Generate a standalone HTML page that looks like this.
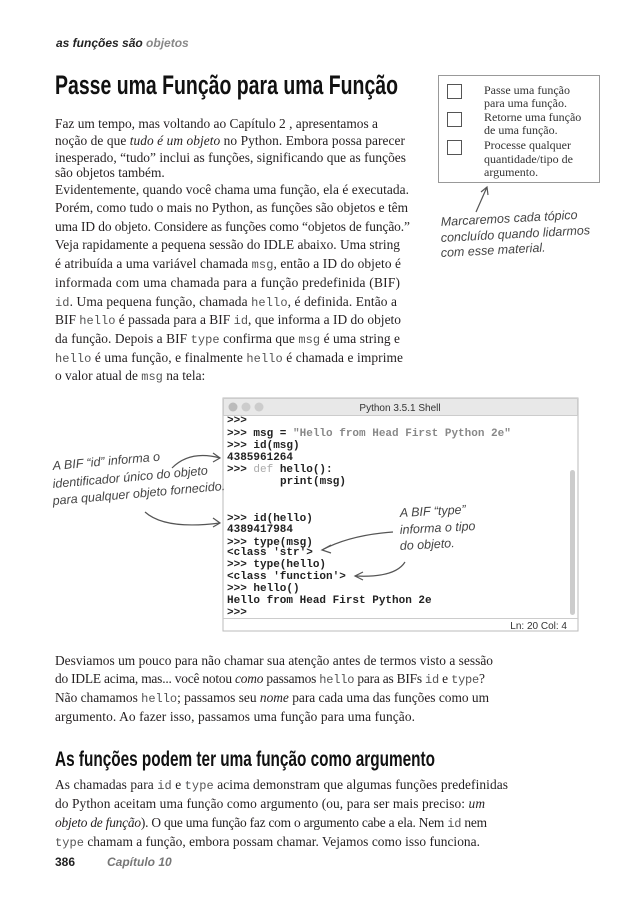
<!DOCTYPE html>
<html><head><meta charset="utf-8"><style>
html,body{margin:0;padding:0;background:#fff}
svg{display:block}
.b{font-family:"Liberation Serif",serif;font-size:13.4px;fill:#231f20}
.c{font-family:"Liberation Mono",monospace;fill:#555;font-size:12px}
.m{font-family:"Liberation Mono",monospace;font-size:11px;font-weight:bold;fill:#222;white-space:pre}
.h{font-family:"Liberation Sans Narrow","Liberation Sans",sans-serif;font-style:italic;fill:#444;font-size:12.5px}
</style></head><body>
<svg width="638" height="901" viewBox="0 0 638 901" xmlns="http://www.w3.org/2000/svg" xml:space="preserve">
<text x="56" y="47" font-family="Liberation Sans,sans-serif" font-size="12" font-weight="bold" font-style="italic" fill="#222">as funções são <tspan fill="#888">objetos</tspan></text>
<text x="55" y="94" font-family="Liberation Sans Narrow,Liberation Sans,sans-serif" font-size="27" font-weight="bold" fill="#111" textLength="343" lengthAdjust="spacingAndGlyphs">Passe uma Função para uma Função</text>

<g class="b">
<text x="55" y="128" textLength="323">Faz um tempo, mas voltando ao Capítulo 2 , apresentamos a</text>
<text x="55" y="145" textLength="350">noção de que <tspan font-style="italic">tudo é um objeto</tspan> no Python. Embora possa parecer</text>
<text x="55" y="162" textLength="351">inesperado, “tudo” inclui as funções, significando que as funções</text>
<text x="55" y="177">são objetos também.</text>
<text x="55" y="194" textLength="354">Evidentemente, quando você chama uma função, ela é executada.</text>
<text x="55" y="212" textLength="353">Porém, como tudo o mais no Python, as funções são objetos e têm</text>
<text x="55" y="231" textLength="355">uma ID do objeto. Considere as funções como “objetos de função.”</text>
<text x="55" y="249" textLength="345">Veja rapidamente a pequena sessão do IDLE abaixo. Uma string</text>
<text x="55" y="268" textLength="346">é atribuída a uma variável chamada <tspan class="c">msg</tspan>, então a ID do objeto é</text>
<text x="55" y="287" textLength="345">informada com uma chamada para a função predefinida (BIF)</text>
<text x="55" y="306" textLength="342"><tspan class="c">id</tspan>. Uma pequena função, chamada <tspan class="c">hello</tspan>, é definida. Então a</text>
<text x="55" y="324" textLength="346">BIF <tspan class="c">hello</tspan> é passada para a BIF <tspan class="c">id</tspan>, que informa a ID do objeto</text>
<text x="55" y="343" textLength="345">da função. Depois a BIF <tspan class="c">type</tspan> confirma que <tspan class="c">msg</tspan> é uma string e</text>
<text x="55" y="362" textLength="348"><tspan class="c">hello</tspan> é uma função, e finalmente <tspan class="c">hello</tspan> é chamada e imprime</text>
<text x="55" y="380">o valor atual de <tspan class="c">msg</tspan> na tela:</text>

<text x="55" y="665" textLength="438">Desviamos um pouco para não chamar sua atenção antes de termos visto a sessão</text>
<text x="55" y="683" textLength="430">do IDLE acima, mas... você notou <tspan font-style="italic">como</tspan> passamos <tspan class="c">hello</tspan> para as BIFs <tspan class="c">id</tspan> e <tspan class="c">type</tspan>?</text>
<text x="55" y="702" textLength="434">Não chamamos <tspan class="c">hello</tspan>; passamos seu <tspan font-style="italic">nome</tspan> para cada uma das funções como um</text>
<text x="55" y="721" textLength="360">argumento. Ao fazer isso, passamos uma função para uma função.</text>
</g>

<text x="55" y="766" font-family="Liberation Sans Narrow,Liberation Sans,sans-serif" font-size="21" font-weight="bold" fill="#111" textLength="380" lengthAdjust="spacingAndGlyphs">As funções podem ter uma função como argumento</text>
<g class="b">
<text x="55" y="789" textLength="453">As chamadas para <tspan class="c">id</tspan> e <tspan class="c">type</tspan> acima demonstram que algumas funções predefinidas</text>
<text x="55" y="808" textLength="430">do Python aceitam uma função como argumento (ou, para ser mais preciso: <tspan font-style="italic">um</tspan></text>
<text x="55" y="827" textLength="432"><tspan font-style="italic">objeto de função</tspan>). O que uma função faz com o argumento cabe a ela. Nem <tspan class="c">id</tspan> nem</text>
<text x="55" y="846" textLength="425"><tspan class="c">type</tspan> chamam a função, embora possam chamar. Vejamos como isso funciona.</text>
</g>
<text x="55" y="866" font-family="Liberation Sans,sans-serif" font-size="12" font-weight="bold" fill="#222">386</text>
<text x="107" y="866" font-family="Liberation Sans,sans-serif" font-size="12" font-weight="bold" font-style="italic" fill="#777">Capítulo 10</text>

<!-- checklist -->
<rect x="438.5" y="75.5" width="161" height="107" fill="#fff" stroke="#999"/>
<rect x="447.5" y="84.5" width="14" height="14" fill="none" stroke="#555"/>
<rect x="447.5" y="112.5" width="14" height="14" fill="none" stroke="#555"/>
<rect x="447.5" y="140.5" width="14" height="14" fill="none" stroke="#555"/>
<g font-family="Liberation Serif,serif" font-size="12" fill="#333">
<text x="484" y="94">Passe uma função</text>
<text x="484" y="107">para uma função.</text>
<text x="484" y="121">Retorne uma função</text>
<text x="484" y="134">de uma função.</text>
<text x="484" y="149">Processe qualquer</text>
<text x="484" y="163">quantidade/tipo de</text>
<text x="484" y="176">argumento.</text>
</g>
<path d="M476 212 L487 187 M481 192 L487 187 L488 195" fill="none" stroke="#555" stroke-width="1.2"/>
<g class="h">
<text x="441" y="226" transform="rotate(-3 441 226)">Marcaremos cada tópico</text>
<text x="441" y="242" transform="rotate(-3 441 242)">concluído quando lidarmos</text>
<text x="441" y="257" transform="rotate(-3 441 257)">com esse material.</text>
</g>

<!-- shell -->
<rect x="223" y="398" width="355" height="233" fill="#fff" stroke="#bbb"/>
<rect x="223.5" y="398.5" width="354" height="17" fill="#e8e8e8" stroke="#ccc"/>
<circle cx="233" cy="407" r="4.5" fill="#bbb"/><circle cx="246" cy="407" r="4.5" fill="#ccc"/><circle cx="259" cy="407" r="4.5" fill="#ccc"/>
<text x="400" y="411" text-anchor="middle" font-family="Liberation Sans,sans-serif" font-size="10" fill="#333">Python 3.5.1 Shell</text>
<rect x="570" y="470" width="5" height="145" rx="2.5" fill="#ccc"/>
<line x1="223" y1="618.5" x2="578" y2="618.5" stroke="#ccc"/>
<text x="567" y="629" text-anchor="end" font-family="Liberation Sans,sans-serif" font-size="10" fill="#333">Ln: 20  Col: 4</text>
<g class="m">
<text x="227" y="423">&gt;&gt;&gt;</text>
<text x="227" y="436">&gt;&gt;&gt; msg = <tspan fill="#888">"Hello from Head First Python 2e"</tspan></text>
<text x="227" y="448">&gt;&gt;&gt; id(msg)</text>
<text x="227" y="460">4385961264</text>
<text x="227" y="472">&gt;&gt;&gt; <tspan fill="#aaa" font-weight="normal">def</tspan> hello():</text>
<text x="280" y="484">print(msg)</text>
<text x="227" y="521">&gt;&gt;&gt; id(hello)</text>
<text x="227" y="532">4389417984</text>
<text x="227" y="545">&gt;&gt;&gt; type(msg)</text>
<text x="227" y="555">&lt;class 'str'&gt;</text>
<text x="227" y="567">&gt;&gt;&gt; type(hello)</text>
<text x="227" y="579">&lt;class 'function'&gt;</text>
<text x="227" y="591">&gt;&gt;&gt; hello()</text>
<text x="227" y="603">Hello from Head First Python 2e</text>
<text x="227" y="615">&gt;&gt;&gt;</text>
</g>

<!-- annotations -->
<g class="h">
<text x="53" y="470" transform="rotate(-5 53 470)">A BIF “id” informa o</text>
<text x="53" y="488" transform="rotate(-5 53 488)">identificador único do objeto</text>
<text x="53" y="505" transform="rotate(-5 53 505)">para qualquer objeto fornecido.</text>
<text x="400" y="517" transform="rotate(-3 400 517)">A BIF “type”</text>
<text x="400" y="534" transform="rotate(-3 400 534)">informa o tipo</text>
<text x="400" y="550" transform="rotate(-3 400 550)">do objeto.</text>
</g>
<g fill="none" stroke="#555" stroke-width="1.2">
<path d="M172 468 Q190 450 220 458"/><path d="M213 453 L220 458 L213 462"/>
<path d="M145 512 Q165 530 220 523"/><path d="M213 518 L220 523 L213 527"/>
<path d="M393 532 Q350 535 322 550"/><path d="M331 545 L322 550 L331 553"/>
<path d="M405 562 Q395 578 355 576"/><path d="M363 572 L355 576 L363 580"/>
</g>
</svg>
</body></html>
